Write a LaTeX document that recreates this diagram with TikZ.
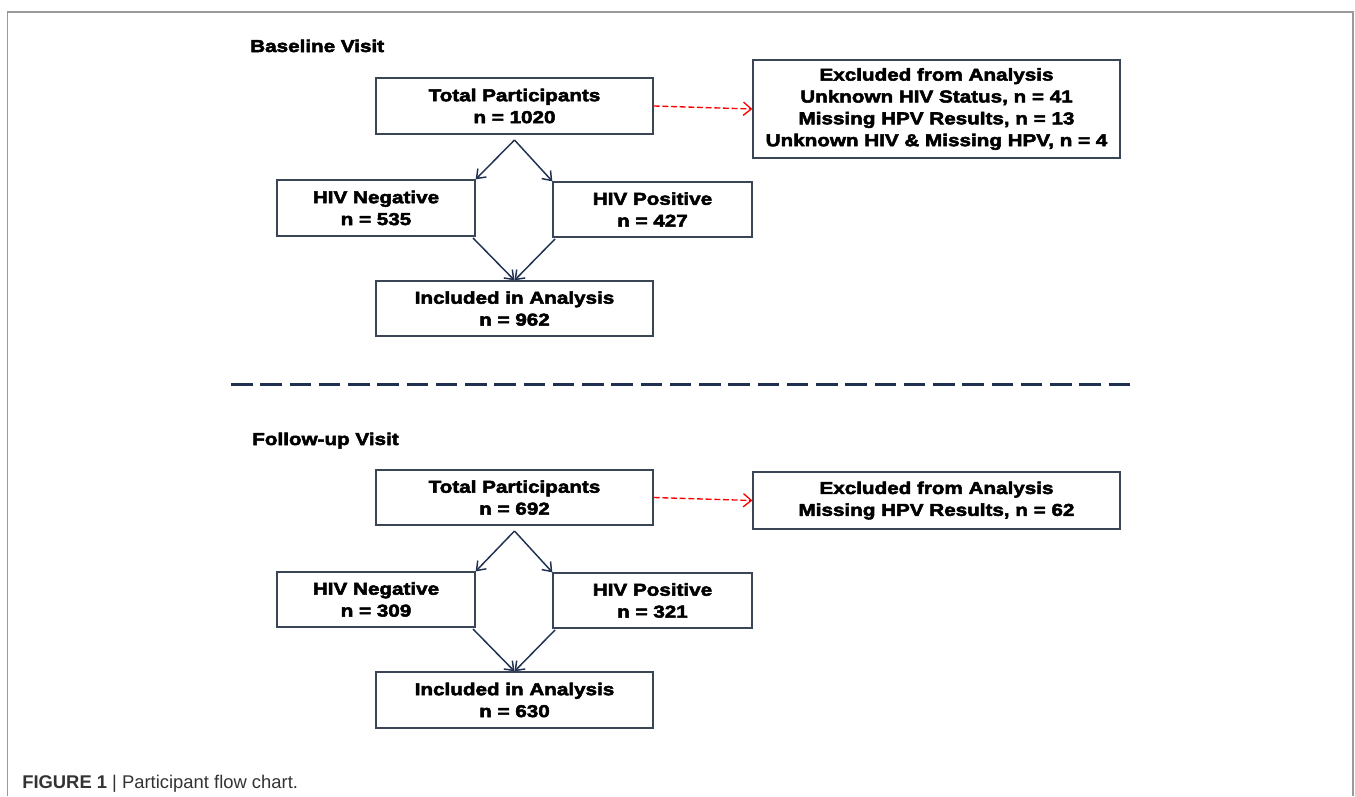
\documentclass[tikz,border=0pt]{standalone}
\usepackage{fontspec}
\setmainfont{Liberation Sans}
\newfontfamily\heavy{Liberation Sans}[UprightFont=* Bold,FakeBold=3,FakeStretch=1.2]
\usetikzlibrary{arrows.meta}
\definecolor{boxline}{HTML}{3A4656}
\definecolor{navy}{HTML}{1F3050}
\definecolor{framegray}{HTML}{9A9A9A}
\definecolor{captxt}{HTML}{333333}
\begin{document}
\begin{tikzpicture}[x=0.75pt,y=-0.75pt,
  box/.style={draw=boxline,line width=1pt,fill=white,align=center,inner sep=0pt,
    font=\heavy\fontsize{12.9}{16.4}\selectfont},
  flow/.style={draw=navy,line width=1.1pt,-{Straight Barb[length=6pt,width=9pt,line width=1.1pt]}},
  excl/.style={draw=red,line width=1pt,dash pattern=on 4.5pt off 2pt,-{Straight Barb[length=6pt,width=10pt,line width=1pt]}},
  title/.style={anchor=base west,inner sep=0pt,font=\heavy\fontsize{12.9}{16}\selectfont}]
\useasboundingbox (0,0) rectangle (1355,796);
% frame
\draw[framegray,line width=1.2pt] (7.5,796) -- (7.5,12) -- (1353,12) -- (1353,796);

% Baseline
\node[title] (bt) at (250,52) {Baseline Visit};
\node[box,minimum width=207.75pt,minimum height=42pt] (tp1) at (514.5,106) {Total Participants\\n = 1020};
\node[box,minimum width=275.25pt,minimum height=73.5pt] (ex1) at (936.5,109) {Excluded from Analysis\\Unknown HIV Status, n = 41\\Missing HPV Results, n = 13\\Unknown HIV \& Missing HPV, n = 4};
\node[box,minimum width=148.5pt,minimum height=42pt] (neg1) at (376,208) {HIV Negative\\n = 535};
\node[box,minimum width=149.25pt,minimum height=41.25pt] (pos1) at (652.5,209.5) {HIV Positive\\n = 427};
\node[box,minimum width=207.75pt,minimum height=41.25pt] (inc1) at (514.5,308.5) {Included in Analysis\\n = 962};
\coordinate (s1) at (514.5,140);
\draw[flow] (s1) -- (neg1.north east);
\draw[flow] (s1) -- (pos1.north west);
\draw[flow] ([xshift=-2pt,yshift=-1pt]neg1.south east) -- (inc1.north);
\draw[flow] ([xshift=2pt,yshift=-1pt]pos1.south west) -- (inc1.north);
\draw[excl] (tp1.east) -- (ex1.west);

% separator
\draw[navy,line width=2.25pt,dash pattern=on 16.125pt off 5.8125pt] (231,384) -- (1130,384);

% Follow-up
\node[title] (ft) at (252,445) {Follow-up Visit};
\node[box,minimum width=207.75pt,minimum height=41.25pt] (tp2) at (514.5,497.5) {Total Participants\\n = 692};
\node[box,minimum width=275.25pt,minimum height=42.75pt] (ex2) at (936.5,500.5) {Excluded from Analysis\\Missing HPV Results, n = 62};
\node[box,minimum width=148.5pt,minimum height=41.25pt] (neg2) at (376,599.5) {HIV Negative\\n = 309};
\node[box,minimum width=149.25pt,minimum height=41.25pt] (pos2) at (652.5,600.5) {HIV Positive\\n = 321};
\node[box,minimum width=207.75pt,minimum height=42pt] (inc2) at (514.5,700) {Included in Analysis\\n = 630};
\coordinate (s2) at (514.5,531);
\draw[flow] (s2) -- (neg2.north east);
\draw[flow] (s2) -- (pos2.north west);
\draw[flow] ([xshift=-2pt,yshift=-1pt]neg2.south east) -- (inc2.north);
\draw[flow] ([xshift=2pt,yshift=-1pt]pos2.south west) -- (inc2.north);
\draw[excl] (tp2.east) -- (ex2.west);

% caption
\node[anchor=base west,inner sep=0pt,text=captxt,font=\fontsize{13.8}{16}\selectfont] (cap) at (22,788) {\textbf{FIGURE 1} | Participant flow chart.};
\end{tikzpicture}
\end{document}
